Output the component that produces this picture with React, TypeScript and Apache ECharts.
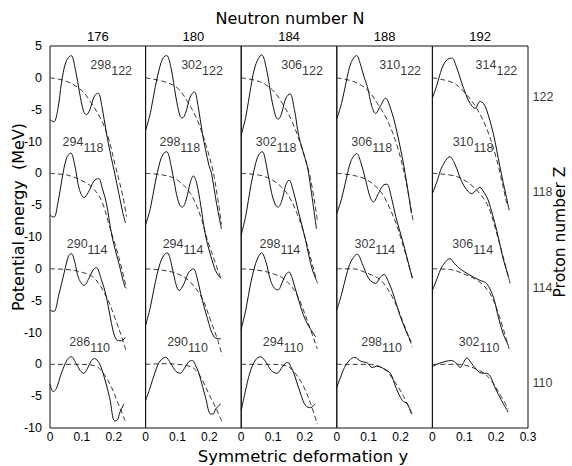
import React, { useEffect, useRef } from "react";
import * as echarts from "echarts";

type Pt = [number, number];

const neutronNumbers = [176, 180, 184, 188, 192];
const protonNumbers = [122, 118, 114, 110];
// zero line of each Z row on the shared stacked energy scale (MeV)
const rowZero = [0, -15, -30, -45];

// ---- N = 176 ----
const solid176_122: Pt[] = [[0, -6.6], [0.012, -6.9], [0.025, -4.8], [0.036, -0.8], [0.05, 2.5], [0.066, 3.5], [0.08, 1.2], [0.093, -2.4], [0.105, -5.2], [0.114, -5.8], [0.125, -5], [0.14, -2.8], [0.151, -2.4], [0.163, -4.5], [0.177, -8.7], [0.19, -12], [0.203, -15], [0.229, -21.3], [0.237, -22.8]];
const dashed176_122: Pt[] = [[0, 0], [0.05, -0.5], [0.1, -2], [0.13, -4], [0.16, -6.5], [0.182, -9.2], [0.203, -13.4], [0.229, -18.7], [0.24, -21.8]];
const solid176_118: Pt[] = [[0, -6.6], [0.012, -6.9], [0.025, -4.6], [0.038, -0.8], [0.052, 2.4], [0.065, 3.2], [0.078, 1.2], [0.092, -2.5], [0.107, -3.8], [0.12, -3], [0.138, -1.2], [0.152, -0.8], [0.165, -2.5], [0.177, -4.7], [0.195, -10], [0.219, -14.7], [0.229, -16.8], [0.236, -18]];
const dashed176_118: Pt[] = [[0, 0], [0.056, -0.3], [0.098, -1.1], [0.13, -2.1], [0.161, -4.2], [0.187, -8.4], [0.215, -13], [0.24, -18.1]];
const solid176_114: Pt[] = [[0, -6.5], [0.012, -6.7], [0.028, -4], [0.045, -0.5], [0.058, 2], [0.067, 2.4], [0.078, 1], [0.09, -1.5], [0.107, -2.6], [0.122, -1.5], [0.135, -0.2], [0.145, 0.2], [0.16, -1.5], [0.177, -4.4], [0.193, -8.6], [0.208, -11.1], [0.224, -11.3], [0.236, -10.8]];
const dashed176_114: Pt[] = [[0, 0], [0.05, -0.1], [0.098, -0.5], [0.14, -1.5], [0.177, -4.4], [0.203, -7.6], [0.229, -11.3], [0.238, -12.8]];
const solid176_110: Pt[] = [[0, -3.1], [0.01, -4.3], [0.02, -3.8], [0.035, -1.5], [0.055, 0.8], [0.067, 1.2], [0.08, 0.3], [0.095, -1], [0.106, -1.4], [0.118, -0.6], [0.13, 0.6], [0.14, 0.9], [0.153, 0.3], [0.166, -1.3], [0.187, -5.2], [0.203, -8.9], [0.212, -8.7], [0.219, -7.6], [0.232, -6.2]];
const dashed176_110: Pt[] = [[0, 0], [0.08, 0], [0.14, -0.2], [0.166, -1.3], [0.193, -3.6], [0.214, -6.2], [0.236, -8.9]];

// ---- N = 180 ----
const solid180_122: Pt[] = [[0, -8.3], [0.015, -5.5], [0.03, -1.5], [0.045, 1.8], [0.056, 3.2], [0.066, 3.5], [0.08, 1.5], [0.095, -3], [0.108, -6], [0.115, -6.3], [0.125, -5.6], [0.14, -3], [0.153, -2.2], [0.165, -4.5], [0.178, -8.7], [0.199, -13.8], [0.207, -15], [0.22, -19], [0.238, -23.7]];
const dashed180_122: Pt[] = [[0, 0], [0.058, -0.6], [0.1, -1.6], [0.131, -3.7], [0.162, -6.6], [0.194, -11.3], [0.215, -15.5], [0.238, -23]];
const solid180_118: Pt[] = [[0, -8.1], [0.015, -5.5], [0.03, -1.5], [0.045, 1.8], [0.056, 3.1], [0.066, 3.4], [0.08, 1.2], [0.095, -2.8], [0.107, -5], [0.115, -5.3], [0.127, -4.2], [0.14, -1.5], [0.15, -0.4], [0.16, -1.5], [0.173, -5], [0.189, -10], [0.215, -14.7], [0.225, -15.8], [0.236, -16.5]];
const dashed180_118: Pt[] = [[0, 0], [0.058, -0.3], [0.1, -1.06], [0.141, -3.2], [0.173, -6.8], [0.194, -10.5], [0.215, -13.5], [0.238, -16.8]];
const solid180_114: Pt[] = [[0, -8.9], [0.015, -6], [0.03, -2.2], [0.045, 0.8], [0.058, 2.2], [0.068, 2.5], [0.08, 1], [0.092, -1.8], [0.105, -3.4], [0.118, -2.6], [0.135, -0.6], [0.15, 0], [0.162, -1.5], [0.173, -3.9], [0.194, -7.8], [0.215, -10.7], [0.236, -11]];
const dashed180_114: Pt[] = [[0, 0], [0.05, -0.2], [0.1, -0.76], [0.141, -2.1], [0.178, -4.7], [0.204, -8.1], [0.227, -11.3], [0.24, -13.6]];
const solid180_110: Pt[] = [[0, -5.7], [0.012, -4], [0.03, -1.2], [0.045, 0.5], [0.063, 1.1], [0.078, 0.2], [0.095, -1.1], [0.109, -1.4], [0.122, -0.6], [0.135, 0.4], [0.147, 0.6], [0.158, -0.3], [0.168, -1.5], [0.189, -5.4], [0.204, -7.8], [0.212, -7.8], [0.22, -7], [0.236, -6.2]];
const dashed180_110: Pt[] = [[0, 0], [0.06, 0.1], [0.1, 0], [0.147, -0.5], [0.173, -2], [0.199, -4.7], [0.22, -6.8], [0.24, -9.1]];

// ---- N = 184 ----
const solid184_122: Pt[] = [[0, -9], [0.015, -6], [0.03, -1.5], [0.045, 2], [0.064, 3.6], [0.08, 1.2], [0.095, -3.2], [0.108, -6], [0.116, -6.5], [0.126, -5.7], [0.14, -3.2], [0.153, -2.5], [0.167, -5], [0.181, -9.2], [0.202, -12.9], [0.21, -14.5], [0.236, -23.7]];
const dashed184_122: Pt[] = [[0, 0], [0.058, -0.6], [0.098, -1.9], [0.129, -4], [0.16, -6.9], [0.192, -11.3], [0.218, -16], [0.239, -22.4]];
const solid184_118: Pt[] = [[0, -9.7], [0.015, -6.5], [0.03, -2], [0.045, 1.5], [0.056, 3], [0.066, 3.4], [0.08, 1], [0.095, -3], [0.108, -5], [0.116, -5.3], [0.128, -4.2], [0.14, -1.8], [0.15, -1.06], [0.162, -2.5], [0.181, -6.3], [0.202, -10.5], [0.218, -14.2], [0.228, -15.8], [0.236, -16.8]];
const dashed184_118: Pt[] = [[0, 0], [0.058, -0.3], [0.098, -1.06], [0.14, -2.9], [0.171, -5.8], [0.197, -9.5], [0.239, -17.3]];
const solid184_114: Pt[] = [[0, -9.5], [0.015, -6.3], [0.03, -2.2], [0.045, 0.8], [0.055, 2], [0.064, 2.5], [0.078, 1], [0.092, -1.8], [0.105, -3.1], [0.116, -3.3], [0.128, -2.2], [0.14, -0.9], [0.15, -0.5], [0.162, -1.8], [0.176, -4.2], [0.202, -8.1], [0.234, -10.7]];
const dashed184_114: Pt[] = [[0, 0], [0.05, -0.2], [0.1, -0.76], [0.14, -1.8], [0.176, -4.2], [0.207, -8.1], [0.239, -12.6]];
const solid184_110: Pt[] = [[0, -7.3], [0.012, -4.5], [0.028, -1.2], [0.045, 0.7], [0.061, 1.2], [0.078, 0.3], [0.095, -1], [0.113, -1.4], [0.125, -0.7], [0.137, 0.1], [0.146, 0.3], [0.156, -0.4], [0.166, -1.5], [0.187, -4.7], [0.202, -6.5], [0.218, -6.8], [0.232, -6.2]];
const dashed184_110: Pt[] = [[0, 0], [0.08, 0], [0.14, -0.2], [0.171, -1.5], [0.197, -3.6], [0.218, -6.2], [0.239, -9.4]];

// ---- N = 188 ----
const solid188_122: Pt[] = [[0, -6.4], [0.015, -4], [0.03, -0.5], [0.045, 2.4], [0.062, 3.5], [0.075, 2], [0.085, 0.2], [0.096, -1.4], [0.11, -4.5], [0.122, -5.6], [0.135, -4.6], [0.153, -3.2], [0.17, -5], [0.185, -7.7], [0.211, -14], [0.234, -21.3]];
const dashed188_122: Pt[] = [[0, 0], [0.054, -0.6], [0.096, -1.9], [0.127, -4], [0.158, -6.6], [0.19, -10.8], [0.216, -16], [0.24, -22.6]];
const solid188_118: Pt[] = [[0, -6.3], [0.015, -4], [0.03, -0.8], [0.045, 2], [0.062, 3.1], [0.075, 1.8], [0.09, -1], [0.105, -3.8], [0.115, -4.5], [0.13, -3.2], [0.145, -1.9], [0.157, -1.7], [0.17, -3.5], [0.185, -6.8], [0.206, -10.5], [0.237, -16.5]];
const dashed188_118: Pt[] = [[0, 0], [0.05, -0.3], [0.096, -1.06], [0.138, -2.9], [0.169, -5.8], [0.195, -9.2], [0.239, -16.8]];
const solid188_114: Pt[] = [[0, -6.5], [0.015, -4], [0.03, -1], [0.045, 1.2], [0.064, 2.3], [0.08, 0.8], [0.1, -1.5], [0.122, -2.3], [0.135, -1.4], [0.148, -0.9], [0.162, -2], [0.18, -4.4], [0.2, -7.6], [0.221, -10.2], [0.234, -11.5]];
const dashed188_114: Pt[] = [[0, 0], [0.05, 0], [0.096, -0.7], [0.138, -1.8], [0.174, -4.4], [0.206, -8.1], [0.237, -12.3]];
const solid188_110: Pt[] = [[0, -3.6], [0.012, -2], [0.03, 0], [0.056, 1.1], [0.075, 0.5], [0.096, 0.2], [0.111, -0.5], [0.125, -0.3], [0.148, -0.7], [0.169, -1.5], [0.185, -3.6], [0.206, -5.7], [0.221, -6.2], [0.234, -7.8]];
const dashed188_110: Pt[] = [[0, 0], [0.1, 0], [0.148, -0.7], [0.18, -2.6], [0.206, -4.7], [0.237, -7.8]];

// ---- N = 192 ----
const solid192_122: Pt[] = [[0, -3.2], [0.015, -1], [0.03, 1.5], [0.045, 2.8], [0.061, 3.1], [0.075, 1.8], [0.092, -0.8], [0.105, -2.6], [0.118, -4], [0.134, -4.8], [0.149, -3.7], [0.16, -4], [0.17, -5], [0.191, -8.7], [0.212, -14], [0.241, -20.8]];
const dashed192_122: Pt[] = [[0, 0], [0.066, -0.8], [0.108, -2.7], [0.139, -4.8], [0.17, -7.9], [0.202, -12.9], [0.233, -19.7]];
const solid192_118: Pt[] = [[0, -3.2], [0.015, -1.2], [0.03, 1], [0.055, 2.6], [0.07, 1.5], [0.092, -1.3], [0.108, -2.6], [0.123, -3.2], [0.138, -2.6], [0.149, -2.2], [0.162, -3], [0.175, -4.2], [0.202, -9], [0.22, -13], [0.24, -16.5]];
const dashed192_118: Pt[] = [[0, 0], [0.076, -0.5], [0.128, -2.1], [0.17, -4.7], [0.196, -8.4], [0.244, -17.3]];
const solid192_114: Pt[] = [[0, -3.4], [0.015, -1.5], [0.03, 0.3], [0.055, 1.6], [0.07, 0.8], [0.087, 0], [0.118, -1], [0.149, -1.8], [0.17, -2.3], [0.191, -4.4], [0.207, -7.6], [0.222, -10.2], [0.238, -12]];
const dashed192_114: Pt[] = [[0, 0], [0.055, -0.1], [0.108, -1], [0.149, -2.1], [0.181, -3.9], [0.207, -7], [0.241, -12.6]];
const solid192_110: Pt[] = [[0, -0.35], [0.024, 0.2], [0.06, 0.6], [0.078, 0], [0.087, -0.5], [0.098, 0.3], [0.108, 1], [0.118, 0.5], [0.128, -0.2], [0.149, -1.3], [0.175, -1.5], [0.196, -3.6], [0.217, -5.7], [0.238, -7.5]];
const dashed192_110: Pt[] = [[0, 0], [0.08, 0], [0.149, -1], [0.181, -2.3], [0.212, -4.7], [0.238, -7]];

// [column N][row Z]
const solidCurves: Pt[][][] = [
  [solid176_122, solid176_118, solid176_114, solid176_110],
  [solid180_122, solid180_118, solid180_114, solid180_110],
  [solid184_122, solid184_118, solid184_114, solid184_110],
  [solid188_122, solid188_118, solid188_114, solid188_110],
  [solid192_122, solid192_118, solid192_114, solid192_110],
];
const dashedCurves: Pt[][][] = [
  [dashed176_122, dashed176_118, dashed176_114, dashed176_110],
  [dashed180_122, dashed180_118, dashed180_114, dashed180_110],
  [dashed184_122, dashed184_118, dashed184_114, dashed184_110],
  [dashed188_122, dashed188_118, dashed188_114, dashed188_110],
  [dashed192_122, dashed192_118, dashed192_114, dashed192_110],
];

// layout of the nuclide labels (deformation / energy anchors), [row][col]
const nuclideLabelX = [
  [0.125, 0.11, 0.124, 0.132, 0.134],
  [0.038, 0.042, 0.044, 0.044, 0.062],
  [0.051, 0.052, 0.056, 0.054, 0.061],
  [0.059, 0.066, 0.066, 0.075, 0.081],
];
const nuclideLabelY = [1.6, 4.5, 3.4, 3.0];
const zLabelY = -3;

const FONT = "DejaVu Sans";
const NUMFONT = "Liberation Sans";
const INK = "#000";

const GRID_LEFT = 50;
const COL_W = 95.6;
const GRID_TOP = 46;
const GRID_H = 382;

function yLabel(v: number): string {
  const g = Math.round(v);
  if (g > 0) return String(g);
  const r = -((-g) % 15);
  return r === 0 ? "0" : String(r);
}

function xLabel(v: number): string {
  const r = Math.round(v * 10) / 10;
  return r === 0 ? "0" : String(r);
}

function buildOption(): any {
  const grids = neutronNumbers.map((_, c) => ({
    left: GRID_LEFT + c * COL_W,
    top: GRID_TOP,
    width: COL_W,
    height: GRID_H,
    show: true,
    borderColor: "#111",
    borderWidth: 1,
    backgroundColor: "transparent",
  }));

  const bottomAxes = neutronNumbers.map((_, c) => ({
    type: "value",
    gridIndex: c,
    position: "bottom",
    min: 0,
    max: 0.3,
    interval: 0.1,
    axisLine: { show: false },
    axisTick: { show: false },
    splitLine: { show: false },
    axisLabel: {
      show: true,
      showMaxLabel: c === neutronNumbers.length - 1,
      showMinLabel: true,
      margin: 3,
      fontSize: 12,
      color: INK,
      fontFamily: NUMFONT,
      formatter: xLabel,
    },
  }));
  const topAxes = neutronNumbers.map((n, c) => ({
    type: "value",
    gridIndex: c,
    position: "top",
    min: 0,
    max: 0.3,
    axisLine: { show: false },
    axisTick: { show: false },
    splitLine: { show: false },
    axisLabel: { show: false },
    name: String(n),
    nameLocation: "middle",
    nameGap: 3,
    nameTextStyle: { fontSize: 13, color: INK, fontFamily: NUMFONT },
  }));

  const yAxes = neutronNumbers.map((_, c) => ({
    type: "value",
    gridIndex: c,
    min: -55,
    max: 5,
    interval: 5,
    axisLine: { show: false },
    axisTick: { show: false },
    splitLine: { show: false },
    axisLabel:
      c === 0
        ? { show: true, margin: 8, fontSize: 12.5, color: INK, fontFamily: NUMFONT, formatter: yLabel }
        : { show: false },
  }));

  const series: any[] = [];
  neutronNumbers.forEach((n, c) => {
    protonNumbers.forEach((z, r) => {
      const off = rowZero[r];
      series.push({
        type: "line",
        xAxisIndex: c,
        yAxisIndex: c,
        data: dashedCurves[c][r].map(([x, v]) => [x, v + off]),
        smooth: 0.35,
        symbol: "none",
        silent: true,
        lineStyle: { color: "#222", width: 0.9, type: [5, 3] },
      });
      series.push({
        type: "line",
        xAxisIndex: c,
        yAxisIndex: c,
        data: solidCurves[c][r].map(([x, v]) => [x, v + off]),
        smooth: 0.35,
        symbol: "none",
        silent: true,
        lineStyle: { color: "#111", width: 1 },
      });
    });
    // nuclide labels (A superscript, Z subscript)
    series.push({
      type: "scatter",
      xAxisIndex: c,
      yAxisIndex: c,
      silent: true,
      clip: false,
      symbolSize: 1,
      itemStyle: { color: "transparent" },
      data: protonNumbers.map((z, r) => ({
        value: [nuclideLabelX[r][c], rowZero[r] + nuclideLabelY[r]],
        A: z + n,
        Z: z,
      })),
      label: {
        show: true,
        position: "right",
        distance: 0,
        color: INK,
        textBorderWidth: 0,
        formatter: (p: any) => `{a|${p.data.A}}{z|${p.data.Z}}`,
        rich: {
          a: { fontSize: 12.5, fontFamily: NUMFONT, color: INK, textBorderWidth: 0, verticalAlign: "top", lineHeight: 19 },
          z: { fontSize: 12.5, fontFamily: NUMFONT, color: INK, textBorderWidth: 0, verticalAlign: "bottom", lineHeight: 19 },
        },
      },
    });
  });

  // proton number labels on the right side
  const last = neutronNumbers.length - 1;
  series.push({
    type: "scatter",
    xAxisIndex: last,
    yAxisIndex: last,
    silent: true,
    clip: false,
    symbolSize: 1,
    itemStyle: { color: "transparent" },
    data: protonNumbers.map((z, r) => ({ value: [0.3, rowZero[r] + zLabelY], name: String(z) })),
    label: {
      show: true,
      position: "right",
      distance: 4,
      color: INK,
      fontSize: 12.5,
      fontFamily: NUMFONT,
      formatter: "{b}",
    },
  });

  const graphic = [
    {
      type: "text",
      x: 290,
      y: 18,
      silent: true,
      style: { text: "Neutron number N", fontSize: 16, fontFamily: FONT, fill: INK, align: "center", verticalAlign: "middle" },
    },
    {
      type: "text",
      x: 303,
      y: 456,
      silent: true,
      style: { text: "Symmetric deformation y", fontSize: 16.5, fontFamily: FONT, fill: INK, align: "center", verticalAlign: "middle" },
    },
    {
      type: "text",
      x: 18,
      y: 217,
      rotation: Math.PI / 2,
      silent: true,
      style: { text: "Potential energy  (MeV)", fontSize: 16, fontFamily: FONT, fill: INK, align: "center", verticalAlign: "middle" },
    },
    {
      type: "text",
      x: 560,
      y: 232,
      rotation: Math.PI / 2,
      silent: true,
      style: { text: "Proton number Z", fontSize: 15.5, fontFamily: FONT, fill: INK, align: "center", verticalAlign: "middle" },
    },
  ];

  return {
    animation: false,
    backgroundColor: "#fff",
    grid: grids,
    xAxis: [...bottomAxes, ...topAxes],
    yAxis: yAxes,
    series,
    graphic,
  };
}

export default function App() {
  const ref = useRef<HTMLDivElement>(null);
  useEffect(() => {
    if (!ref.current) return;
    const chart = echarts.init(ref.current, null, { renderer: "svg" });
    chart.setOption(buildOption());
    return () => chart.dispose();
  }, []);
  return <div ref={ref} style={{ position: "fixed", left: 0, top: 0, width: 572, height: 466 }} />;
}
